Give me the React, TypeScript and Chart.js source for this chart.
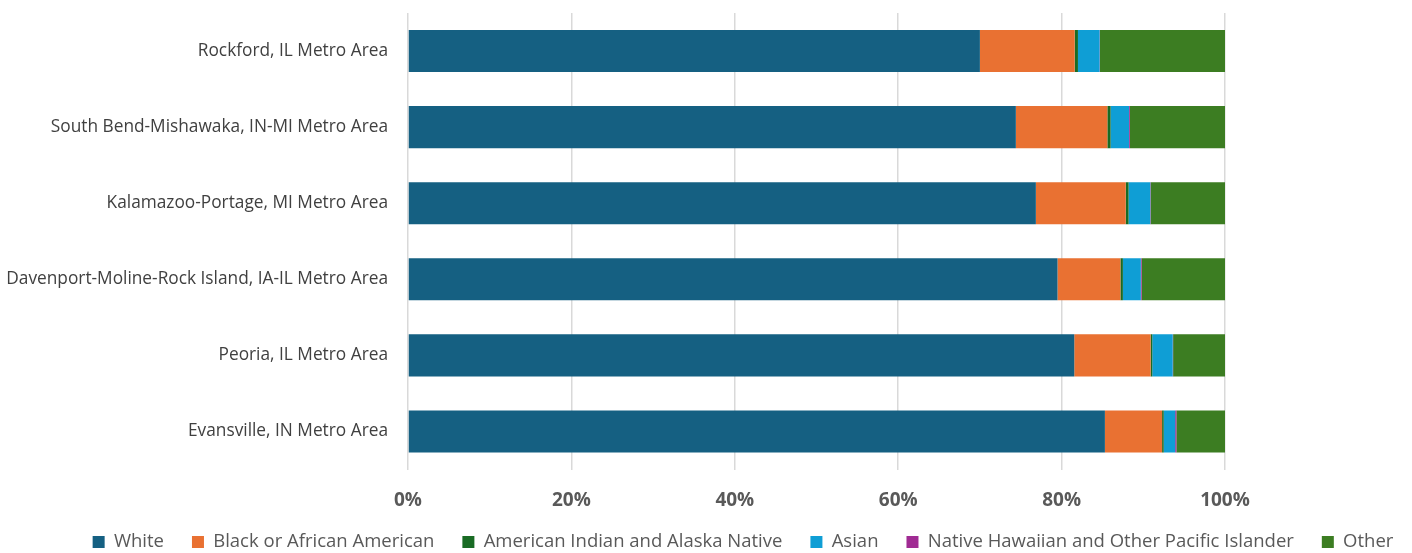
import React, { useEffect, useRef } from "react";
import { Chart, registerables } from "chart.js";

Chart.register(...registerables);

const categories = [
  "Rockford, IL Metro Area",
  "South Bend-Mishawaka, IN-MI Metro Area",
  "Kalamazoo-Portage, MI Metro Area",
  "Davenport-Moline-Rock Island, IA-IL Metro Area",
  "Peoria, IL Metro Area",
  "Evansville, IN Metro Area",
];

const white = [70.0, 74.4, 76.85, 79.5, 81.55, 85.3];
const black = [11.6, 11.2, 11.0, 7.7, 9.35, 7.0];
const aian = [0.4, 0.4, 0.35, 0.3, 0.2, 0.2];
const asian = [2.65, 2.25, 2.65, 2.2, 2.5, 1.4];
const nhpi = [0.05, 0.1, 0.05, 0.1, 0.05, 0.15];
const other = [15.3, 11.65, 9.1, 10.2, 6.35, 5.95];

const xTicks = [0, 20, 40, 60, 80, 100];

const seriesNames = [
  "White",
  "Black or African American",
  "American Indian and Alaska Native",
  "Asian",
  "Native Hawaiian and Other Pacific Islander",
  "Other",
];
const seriesData = [white, black, aian, asian, nhpi, other];
const seriesColors = ["#156082", "#E97132", "#196B24", "#0F9ED5", "#A02B93", "#3C7D22"];

const FONT = "'Open Sans', 'Noto Sans', sans-serif";

export default function App() {
  const ref = useRef<HTMLCanvasElement | null>(null);

  useEffect(() => {
    document.body.style.margin = "0";
    const legendShift = {
      id: "legendShift",
      afterLayout(chart: any) {
        const lg = chart.legend;
        if (lg) {
          const dx = 743 - (lg.left + lg.right) / 2;
          lg.left += dx;
          lg.right += dx;
          const dy = 533 - (lg.top + lg.bottom) / 2;
          lg.top += dy;
          lg.bottom += dy;
        }
      },
    };
    const chart = new Chart(ref.current as HTMLCanvasElement, {
      type: "bar",
      data: {
        labels: categories,
        datasets: seriesNames.map((name, i) => ({
          label: name,
          data: seriesData[i],
          backgroundColor: seriesColors[i],
          borderWidth: 0,
          categoryPercentage: 0.553,
          barPercentage: 1,
        })),
      },
      options: {
        indexAxis: "y",
        animation: false,
        responsive: true,
        maintainAspectRatio: false,
        layout: { padding: { top: 13, right: 0, bottom: -21, left: 0 } },
        scales: {
          x: {
            stacked: true,
            min: 0,
            max: 100,
            afterBuildTicks: (scale: any) => {
              scale.ticks = xTicks.map((v) => ({ value: v }));
            },
            afterFit: (scale: any) => {
              scale.height = 48;
            },
            grid: { color: "#d9d9d9", lineWidth: 1.5, drawTicks: false },
            border: { display: false },
            ticks: {
              padding: 20,
              color: "#595959",
              font: { family: FONT, size: 19, weight: "bold" },
              callback: (v: any) => v + "%",
            },
          },
          y: {
            stacked: true,
            afterFit: (scale: any) => {
              scale.width = 408;
              scale.paddingTop = 0;
              scale.paddingBottom = 0;
            },
            grid: { display: false },
            border: { display: false },
            ticks: {
              padding: 12,
              color: "#404040",
              font: { family: FONT, size: 17.3 },
            },
          },
          yRight: {
            type: "category",
            position: "right",
            display: true,
            afterFit: (scale: any) => {
              scale.width = 187;
              scale.paddingTop = 0;
              scale.paddingBottom = 0;
            },
            grid: { display: false },
            border: { display: false },
            ticks: { display: false },
          },
        },
        plugins: {
          legend: {
            position: "bottom",
            labels: {
              boxWidth: 12,
              boxHeight: 12,
              padding: 28,
              color: "#595959",
              font: { family: FONT, size: 18.5 },
            },
          },
          tooltip: { enabled: false },
        },
      },
      plugins: [legendShift],
    } as any);
    return () => chart.destroy();
  }, []);

  return (
    <div style={{ width: 1412, height: 553, position: "relative" }}>
      <canvas ref={ref} />
    </div>
  );
}
